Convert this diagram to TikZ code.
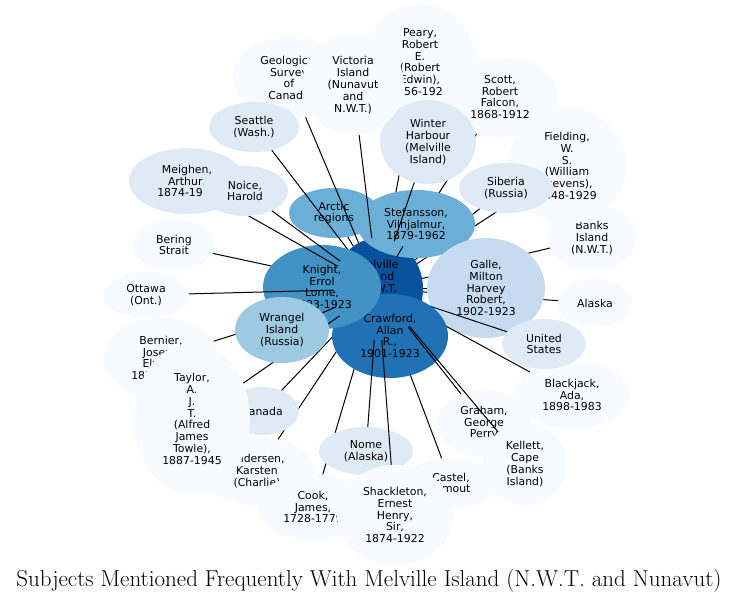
\documentclass[tikz,border=0pt]{standalone}
\usepackage{fontspec}
\usepackage{tikz}
\usetikzlibrary{shapes.geometric}
\newfontfamily\subjfont{DejaVu Sans}
\definecolor{blueA}{HTML}{08519C}
\definecolor{blueB}{HTML}{2171B5}
\definecolor{blueC}{HTML}{4292C6}
\definecolor{blueD}{HTML}{6BAED6}
\definecolor{blueE}{HTML}{9ECAE1}
\definecolor{blueF}{HTML}{C6DBEF}
\definecolor{blueG}{HTML}{DEEBF7}
\definecolor{blueH}{HTML}{F7FBFF}
\begin{document}
\begin{tikzpicture}[x=1pt, y=-1pt,
  subj/.style n args={3}{ellipse, fill=#1, inner sep=0pt, minimum width=#2,
    minimum height=#3, align=center, font=\subjfont\fontsize{10.9}{11.8}\selectfont},
  link/.style={draw=black, line width=1pt}]
  \useasboundingbox (0,0) rectangle (739,603);
  % hub first, then every subject followed by its link
  \node[subj={blueA}{90}{102}] (melville) at (378,289) {Melville\\Island\\(N.W.T.\\and\\Nunavut)};
  \node[subj={blueH}{112}{114}] (peary) at (420,62) {Peary,\\Robert\\E.\\(Robert\\Edwin),\\1856-1920};
  \draw[link] (melville) -- (peary);
  \node[subj={blueH}{116}{80}] (scott) at (500,97) {Scott,\\Robert\\Falcon,\\1868-1912};
  \draw[link] (melville) -- (scott);
  \node[subj={blueH}{88}{66}] (banks) at (592,238) {Banks\\Island\\(N.W.T.)};
  \draw[link] (melville) -- (banks);
  \node[subj={blueH}{118}{116}] (fielding) at (567,166) {Fielding,\\W.\\S.\\(William\\Stevens),\\1848-1929};
  \draw[link] (melville) -- (fielding);
  \node[subj={blueG}{94}{50}] (siberia) at (506,188) {Siberia\\(Russia)};
  \draw[link] (melville) -- (siberia);
  \node[subj={blueD}{118}{68}] (stefansson) at (416,224) {Stefansson,\\Vilhjalmur,\\1879-1962};
  \draw[link] (melville) -- (stefansson);
  \node[subj={blueG}{96}{84}] (winter) at (428,142) {Winter\\Harbour\\(Melville\\Island)};
  \draw[link] (melville) -- (winter);
  \node[subj={blueD}{90}{50}] (arctic) at (334,213) {Arctic\\regions};
  \draw[link] (melville) -- (arctic);
  \node[subj={blueH}{112}{82}] (geosurvey) at (289,78) {Geological\\Survey\\of\\Canada};
  \draw[link] (melville) -- (geosurvey);
  \node[subj={blueH}{102}{100}] (victoria) at (353,85) {Victoria\\Island\\(Nunavut\\and\\N.W.T.)};
  \draw[link] (melville) -- (victoria);
  \node[subj={blueG}{90}{50}] (seattle) at (254,127) {Seattle\\(Wash.)};
  \draw[link] (melville) -- (seattle);
  \node[subj={blueH}{74}{48}] (alaska) at (595,303) {Alaska};
  \draw[link] (melville) -- (alaska);
  \node[subj={blueF}{118}{100}] (galle) at (486,288) {Galle,\\Milton\\Harvey\\Robert,\\1902-1923};
  \draw[link] (melville) -- (galle);
  \node[subj={blueH}{116}{66}] (blackjack) at (572,395) {Blackjack,\\Ada,\\1898-1983};
  \draw[link] (melville) -- (blackjack);
  \node[subj={blueG}{84}{50}] (usa) at (544,344) {United\\States};
  \draw[link] (melville) -- (usa);
  \node[subj={blueH}{82}{50}] (bering) at (174,245) {Bering\\Strait};
  \draw[link] (melville) -- (bering);
  \node[subj={blueH}{116}{80}] (bernier) at (161,358) {Bernier,\\Joseph\\Elzéar,\\1852-1934};
  \draw[link] (melville) -- (bernier);
  \node[subj={blueH}{114}{68}] (andersen) at (257,471) {Andersen,\\Karsten\\(Charlie)};
  \draw[link] (melville) -- (andersen);
  \node[subj={blueG}{74}{48}] (canada) at (262,411) {Canada};
  \draw[link] (melville) -- (canada);
  \node[subj={blueH}{112}{66}] (cook) at (313,507) {Cook,\\James,\\1728-1779};
  \draw[link] (melville) -- (cook);
  \node[subj={blueH}{92}{50}] (castel) at (451,483) {Castel,\\Aimout};
  \draw[link] (melville) -- (castel);
  \node[subj={blueB}{116}{84}] (crawford) at (390,336) {Crawford,\\Allan\\R.,\\1901-1923};
  \node[subj={blueC}{118}{84}] (knight) at (322,287) {Knight,\\Errol\\Lorne,\\1893-1923};
  \node[subj={blueG}{116}{66}] (meighen) at (187,181) {Meighen,\\Arthur,\\1874-1960};
  \draw[link] (melville) -- (meighen);
  \node[subj={blueG}{86}{50}] (noice) at (245,191) {Noice,\\Harold};
  \draw[link] (melville) -- (noice);
  \node[subj={blueH}{86}{46}] (ottawa) at (146,295) {Ottawa\\(Ont.)};
  \draw[link] (melville) -- (ottawa);
  \node[subj={blueH}{116}{152}] (taylor) at (192,419) {Taylor,\\A.\\J.\\T.\\(Alfred\\James\\Towle),\\1887-1945};
  \draw[link] (melville) -- (taylor);
  \node[subj={blueE}{94}{66}] (wrangel) at (282,330) {Wrangel\\Island\\(Russia)};
  \draw[link] (melville) -- (wrangel);
  \node[subj={blueG}{94}{48}] (nome) at (366,451) {Nome\\(Alaska)};
  \draw[link] (melville) -- (nome);
  \node[subj={blueH}{116}{100}] (shackleton) at (395,515) {Shackleton,\\Ernest\\Henry,\\Sir,\\1874-1922};
  \draw[link] (melville) -- (shackleton);
  \node[subj={blueH}{94}{66}] (graham) at (484,423) {Graham,\\George\\Perry};
  \draw[link] (melville) -- (graham);
  \node[subj={blueH}{84}{82}] (kellett) at (525,464) {Kellett,\\Cape\\(Banks\\Island)};
  \draw[link] (melville) -- (kellett);
  % caption
  \node[font=\fontsize{23}{27}\selectfont] (caption) at (369,581)
    {Subjects Mentioned Frequently With Melville Island (N.W.T. and Nunavut)};
\end{tikzpicture}
\end{document}
